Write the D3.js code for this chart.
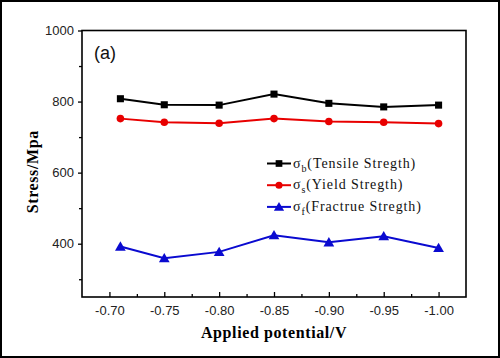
<!DOCTYPE html>
<html>
<head>
<meta charset="utf-8">
<script src="https://cdnjs.cloudflare.com/ajax/libs/d3/7.8.5/d3.min.js"></script>
<style>
  html, body { margin: 0; padding: 0; background: #fff; }
  svg { display: block; }
</style>
</head>
<body>
<svg id="chart" width="500" height="358"></svg>
<script>
// data
var potentials = [-0.71, -0.75, -0.80, -0.85, -0.90, -0.95, -1.00];
var tensile = [808, 791, 790, 821, 795, 785, 790];
var yieldS = [752, 742, 739, 752, 744, 742, 738];
var fracture = [392, 359, 377, 424, 404, 421, 388];

var xTicks = [-0.70, -0.75, -0.80, -0.85, -0.90, -0.95, -1.00];
var xMinor = [-0.725, -0.775, -0.825, -0.875, -0.925, -0.975];
var yTicks = [400, 600, 800, 1000];
var yMinor = [300, 500, 700, 900];

var seriesNames = ["b", "s", "f"];
var seriesLabels = ["(Tensile Stregth)", "(Yield Stregth)", "(Fractrue Stregth)"];
var seriesColors = ["#000000", "#e80000", "#0a0ad0"];
var seriesSymbols = [d3.symbolSquare, d3.symbolCircle, d3.symbolTriangle];
var seriesValues = [tensile, yieldS, fracture];

var svg = d3.select("#chart"),
    width = +svg.attr("width"),
    height = +svg.attr("height");

// outer frame
svg.append("rect")
    .attr("x", 1).attr("y", 1)
    .attr("width", width - 2).attr("height", height - 2)
    .attr("fill", "none").attr("stroke", "#000").attr("stroke-width", 2);

var mLeft = 82, mRight = 466, mTop = 30.5, mBottom = 297;
var hyphen = function(d) { return d3.format(".2f")(d).replace("\u2212", "-"); };

var x = d3.scaleLinear().domain([-0.675, -1.025]).range([mLeft, mRight]);
var y = d3.scaleLinear().domain([250, 1000]).range([mBottom, mTop]);

// y axis (ticks outward)
svg.append("g")
    .attr("transform", "translate(" + mLeft + ",0)")
    .call(d3.axisLeft(y).tickValues(yTicks).tickSize(4).tickPadding(4).tickFormat(d3.format("d")));
svg.append("g")
    .attr("transform", "translate(" + mLeft + ",0)")
    .call(d3.axisLeft(y).tickValues(yMinor).tickSize(3).tickFormat(""));

// x axis (ticks inward)
svg.append("g")
    .attr("transform", "translate(0," + mBottom + ")")
    .call(d3.axisBottom(x).tickValues(xTicks).tickSize(-5).tickPadding(9).tickFormat(hyphen));
svg.append("g")
    .attr("transform", "translate(0," + mBottom + ")")
    .call(d3.axisBottom(x).tickValues(xMinor).tickSize(-3).tickFormat(""));

svg.selectAll(".domain").remove();
svg.selectAll(".tick line").attr("stroke", "#000").attr("stroke-width", 1.3);
svg.selectAll(".tick text")
    .attr("fill", "#222")
    .style("font-family", "'Liberation Sans', Arial, sans-serif")
    .style("font-size", "13px");

// plot box
svg.append("rect")
    .attr("x", mLeft).attr("y", mTop)
    .attr("width", mRight - mLeft).attr("height", mBottom - mTop)
    .attr("fill", "none").attr("stroke", "#000").attr("stroke-width", 1.6);

// series
var line = d3.line()
    .x(function(d, i) { return x(potentials[i]); })
    .y(function(d) { return y(d); });

seriesValues.forEach(function(vals, k) {
  svg.append("path")
      .datum(vals)
      .attr("d", line)
      .attr("fill", "none")
      .attr("stroke", seriesColors[k])
      .attr("stroke-width", 2);

  svg.selectAll(".pt" + k)
      .data(vals)
      .enter().append("path")
      .attr("class", "pt" + k)
      .attr("transform", function(d, i) { return "translate(" + x(potentials[i]) + "," + (y(d) + (k == 2 ? 1 : 0)) + ")"; })
      .attr("d", d3.symbol().type(seriesSymbols[k]).size(k == 1 ? 45 : 50))
      .attr("fill", seriesColors[k]);
});

// legend
var legend = svg.selectAll(".legend")
    .data(seriesNames)
    .enter().append("g")
    .attr("class", "legend")
    .attr("transform", function(d, i) { return "translate(267," + (163.5 + i * 21.7) + ")"; });

legend.append("line")
    .attr("x1", 0).attr("x2", 24)
    .attr("stroke", function(d, i) { return seriesColors[i]; })
    .attr("stroke-width", 2);
legend.append("path")
    .attr("transform", function(d, i) { return "translate(12," + (i == 2 ? 1 : 0) + ")"; })
    .attr("d", function(d, i) { return d3.symbol().type(seriesSymbols[i]).size(i == 1 ? 40 : 45)(); })
    .attr("fill", function(d, i) { return seriesColors[i]; });

var lt = legend.append("text")
    .attr("x", 26)
    .attr("y", 4)
    .style("font-family", "'Liberation Serif', 'Times New Roman', serif")
    .style("font-size", "14px")
    .style("letter-spacing", "0.9px")
    .attr("fill", "#111");
lt.append("tspan").text("σ");
lt.append("tspan").attr("dy", 4).style("font-size", "10px").text(function(d) { return d; });
lt.append("tspan").attr("dy", -4).text(function(d, i) { return seriesLabels[i]; });

// panel label
svg.append("text")
    .attr("x", 94).attr("y", 59)
    .style("font-family", "'Liberation Sans', Arial, sans-serif")
    .style("font-size", "18px")
    .attr("fill", "#111")
    .text("(a)");

// axis titles
svg.append("text")
    .attr("transform", "translate(38," + ((mTop + mBottom) / 2 + 8) + ") rotate(-90)")
    .attr("text-anchor", "middle")
    .style("font-family", "'Liberation Serif', 'Times New Roman', serif")
    .style("font-weight", "bold")
    .style("font-size", "16px")
    .style("letter-spacing", "0.6px")
    .text("Stress/Mpa");

svg.append("text")
    .attr("x", (mLeft + mRight) / 2)
    .attr("y", 338)
    .attr("text-anchor", "middle")
    .style("font-family", "'Liberation Serif', 'Times New Roman', serif")
    .style("font-weight", "bold")
    .style("font-size", "16px")
    .style("letter-spacing", "0.6px")
    .text("Applied potential/V");
</script>
</body>
</html>
